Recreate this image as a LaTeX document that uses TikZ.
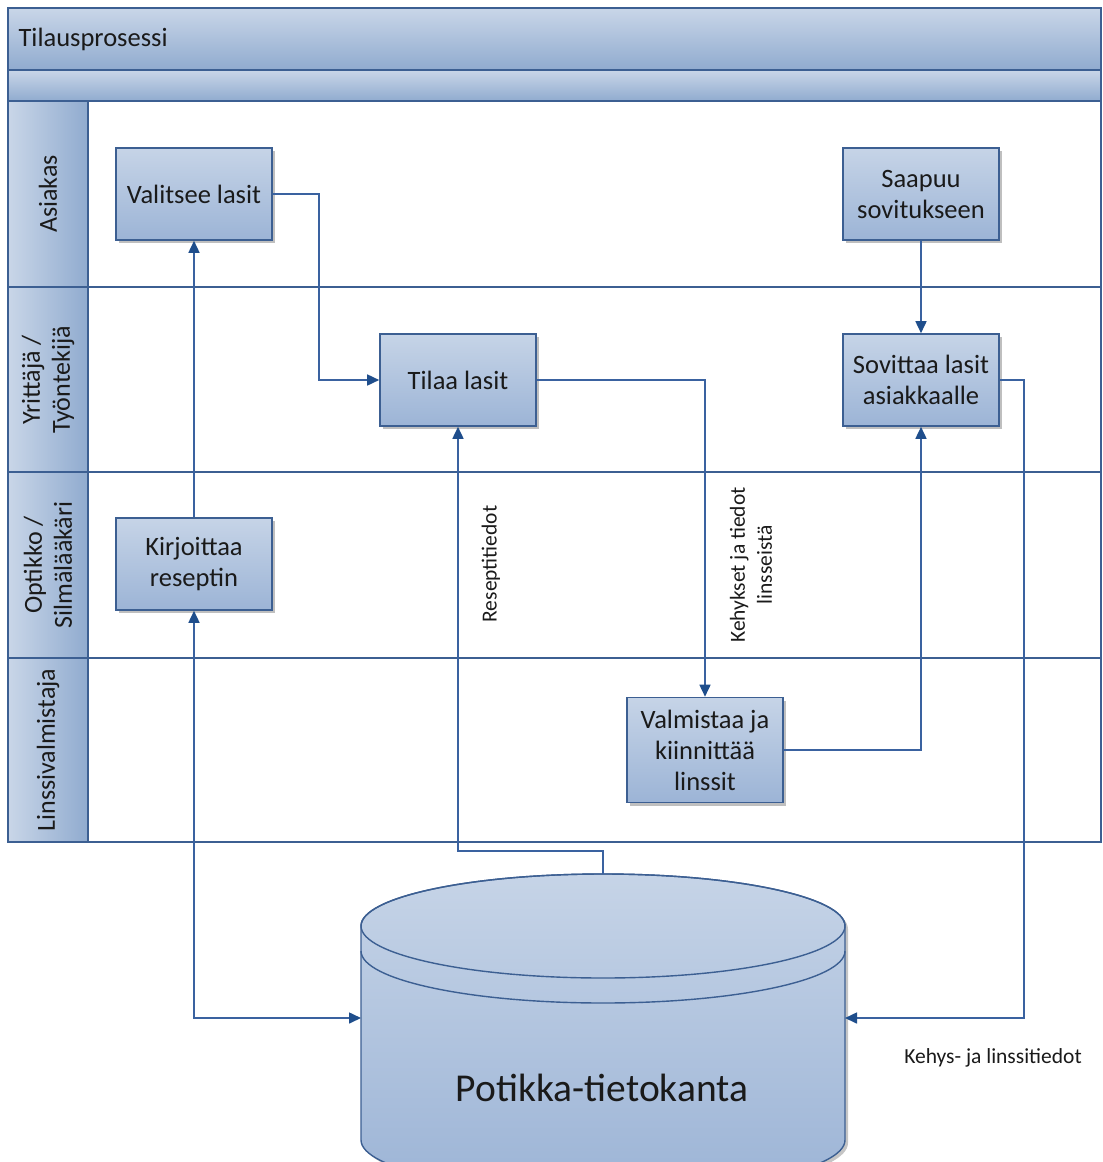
\documentclass[tikz,border=0pt]{standalone}
\usepackage{fontspec}
\setmainfont{Carlito}
\usetikzlibrary{arrows.meta,shadows}

\definecolor{edge}{HTML}{3A62A0}
\definecolor{tip}{HTML}{1F4E8C}
\definecolor{frame}{HTML}{3C5F92}
\definecolor{filltop}{HTML}{C6D4E7}
\definecolor{fillbot}{HTML}{9CB4D6}
\definecolor{hdrlight}{HTML}{C9D6E8}
\definecolor{hdrdark}{HTML}{90ABCF}
\definecolor{ink}{HTML}{1A1A1A}

\tikzset{
  every node/.style={text=ink},
  task/.style={draw=frame, line width=1.6pt, top color=filltop, bottom color=fillbot,
    minimum width=156pt, minimum height=92pt, align=center, font=\fontsize{26.5}{31}\selectfont,
    drop shadow={shadow xshift=3pt, shadow yshift=-3pt, fill=black!55, opacity=0.45}},
  conn/.style={draw=edge, line width=1.6pt, -{Triangle[length=12pt,width=11pt,fill=tip,color=tip]}},
  lanelabel/.style={rotate=90, align=center, font=\fontsize{26}{30}\selectfont},
  flowlabel/.style={font=\fontsize{21.5}{27}\selectfont, align=center},
  grid/.style={draw=frame, line width=1.4pt}
}

\begin{document}
\begin{tikzpicture}[x=1pt,y=1pt]
\useasboundingbox (0,0) rectangle (1103,-1162);
\fill[white] (0,0) rectangle (1103,-1162);

% pool header bands
\shade[top color=hdrlight, bottom color=hdrdark] (8,-8) rectangle (1101,-70);
\shade[top color=hdrlight, bottom color=hdrdark] (8,-70) rectangle (1101,-101);
\node[anchor=west, font=\fontsize{26.5}{30}\selectfont] (title) at (15,-39) {Tilausprosessi};

% lane header column
\shade[left color=hdrlight, right color=hdrdark] (8,-101) rectangle (88,-842);

% pool frame and lane separators
\draw[grid] (8,-8) rectangle (1101,-842);
\draw[grid] (8,-70) -- (1101,-70);
\draw[grid] (8,-101) -- (1101,-101);
\draw[grid] (8,-287) -- (1101,-287);
\draw[grid] (8,-472) -- (1101,-472);
\draw[grid] (8,-658) -- (1101,-658);
\draw[grid] (88,-101) -- (88,-842);

% lane names
\node[lanelabel] (laneA) at (48,-194) {Asiakas};
\node[lanelabel] (laneY) at (48,-380) {Yrittäjä /\\Työntekijä};
\node[lanelabel] (laneO) at (48,-565) {Optikko /\\Silmälääkäri};
\node[lanelabel] (laneL) at (48,-750) {Linssivalmistaja};

% database cylinder
\fill[black!50, opacity=0.45] (364,-929) -- (364,-1143) arc[start angle=180,end angle=360,x radius=242,y radius=52]
  -- (848,-929) arc[start angle=0,end angle=180,x radius=242,y radius=52] -- cycle;
\shade[top color=filltop, bottom color=fillbot, draw=frame, line width=1.4pt]
  (361,-926) -- (361,-1140) arc[start angle=180,end angle=360,x radius=242,y radius=52]
  -- (845,-926) arc[start angle=0,end angle=180,x radius=242,y radius=52] -- cycle;
\draw[frame, line width=1.4pt] (603,-926) ellipse[x radius=242, y radius=52];
\draw[frame, line width=1.4pt] (361,-951) arc[start angle=180,end angle=360,x radius=242,y radius=52];
\node[font=\fontsize{39.5}{46}\selectfont] (dbtext) at (602,-1088) {Potikka-tietokanta};
\coordinate (dbN) at (603,-874);
\coordinate (dbW) at (361,-1018);
\coordinate (dbE) at (845,-1018);

% tasks
\node[task] (val) at (194,-194) {Valitsee lasit};
\node[task] (saa) at (921,-194) {Saapuu\\sovitukseen};
\node[task] (til) at (458,-380) {Tilaa lasit};
\node[task] (sov) at (921,-380) {Sovittaa lasit\\asiakkaalle};
\node[task] (kir) at (194,-564) {Kirjoittaa\\reseptin};
\node[task, minimum height=105pt] (valm) at (705,-750) {Valmistaa ja\\kiinnittää\\linssit};

% flows
\draw[conn] (kir) -- (val);
\draw[conn] (val.east) -- ++(46,0) |- (til.west);
\draw[conn] (til.east) -| (valm.north);
\draw[conn] (saa) -- (sov);
\draw[conn] (valm.east) -| (sov.south);
\draw[conn] (sov.east) -- ++(24,0) |- (dbE);
\draw[conn] (dbN) -- ++(0,23) -| (til.south);
\draw[conn, {Triangle[length=12pt,width=11pt,fill=tip,color=tip]}-{Triangle[length=12pt,width=11pt,fill=tip,color=tip]}] (kir.south) |- (dbW);

% flow labels
\node[flowlabel, rotate=90] (lblRes) at (491,-564) {Reseptitiedot};
\node[flowlabel, rotate=90] (lblKeh) at (751,-565) {Kehykset ja tiedot\\linsseistä};
\node[flowlabel] (lblLin) at (993,-1058) {Kehys- ja linssitiedot};
\end{tikzpicture}
\end{document}
